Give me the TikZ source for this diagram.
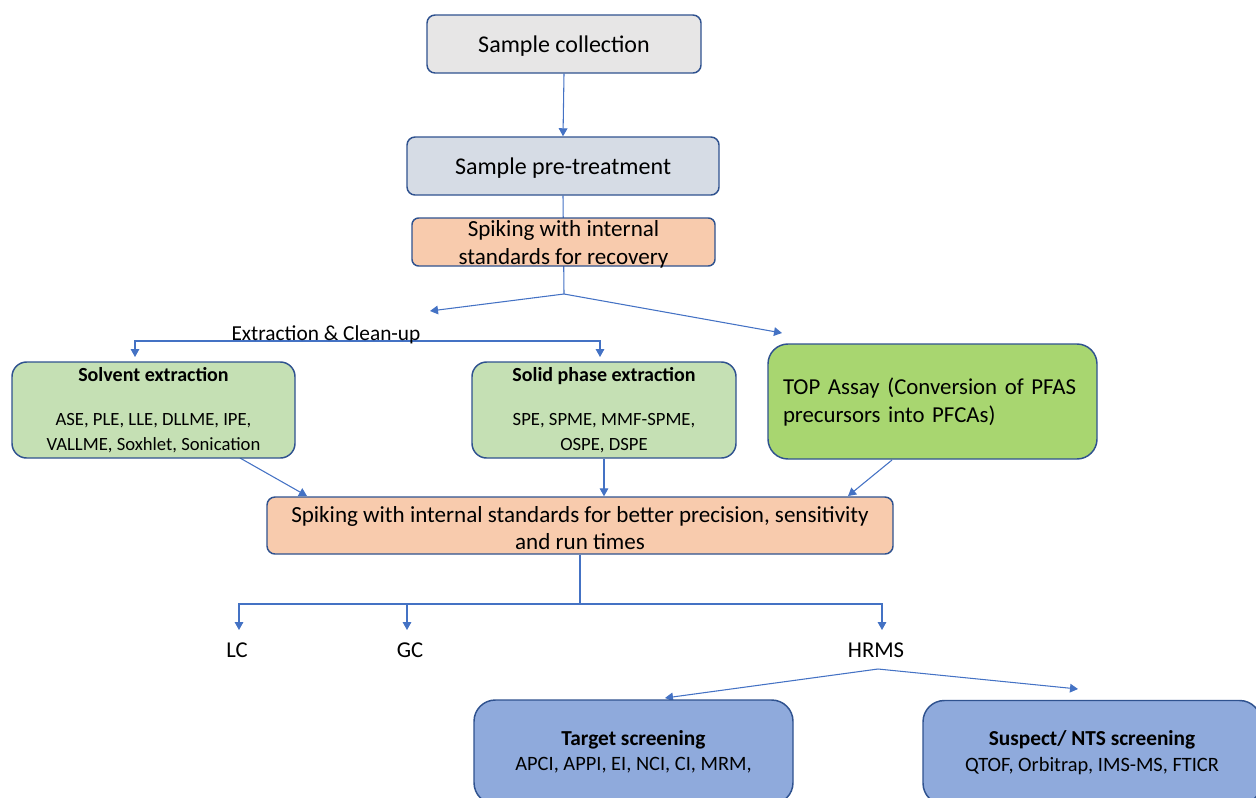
\documentclass[tikz,border=0pt]{standalone}
\usepackage{fontspec}
\setmainfont{Carlito}
\usetikzlibrary{arrows.meta,backgrounds}
\definecolor{bordercol}{HTML}{2F528F}
\definecolor{linecol}{HTML}{4472C4}
\definecolor{grayfill}{HTML}{E7E6E6}
\definecolor{bluegray}{HTML}{D6DCE5}
\definecolor{orangefill}{HTML}{F8CBAD}
\definecolor{lgreen}{HTML}{C5E0B4}
\definecolor{dgreen}{HTML}{A8D670}
\definecolor{bluefill}{HTML}{8FAADC}
\newcommand{\lowerit}[1]{\raisebox{-1.6pt}[\height][\depth]{#1}}
\tikzset{
  box/.style={draw=bordercol, line width=1.1pt, inner sep=0pt, align=center, text=black},
  conn/.style={draw=linecol, line width=0.8pt},
  arr/.style={conn, -{Triangle[length=6pt,width=6.5pt]}},
  arrs/.style={conn, {Triangle[length=6pt,width=6.5pt]}-{Triangle[length=6pt,width=6.5pt]}},
  lbl/.style={inner sep=0pt, text=black},
}
\begin{document}
\begin{tikzpicture}[x=0.75pt,y=-0.75pt]
\useasboundingbox (0,0) rectangle (1256,797);
\clip (0,0) rectangle (1256,797);
% boxes
\node[box, fill=grayfill, rounded corners=6pt, minimum width=274*0.75pt, minimum height=58*0.75pt, font=\fontsize{18}{21}\selectfont] (sc) at (564,44) {\lowerit{Sample collection}};
\node[box, fill=bluegray, rounded corners=6pt, minimum width=312*0.75pt, minimum height=58*0.75pt, font=\fontsize{18}{21}\selectfont] (pt) at (563,166) {\lowerit{Sample pre-treatment}};
\node[box, fill=orangefill, rounded corners=5pt, minimum width=303*0.75pt, minimum height=48*0.75pt, font=\fontsize{17.3}{21}\selectfont] (sp1) at (563.5,242) {\lowerit{Spiking with internal}\\\lowerit{standards for recovery}};
\node[box, fill=lgreen, rounded corners=11pt, minimum width=283*0.75pt, minimum height=96*0.75pt, font=\fontsize{14}{18.75}\selectfont] (se) at (153.5,410) {{\fontsize{15}{18.75}\selectfont\textbf{Solvent extraction}}\\[14.25pt]ASE, PLE, LLE, DLLME, IPE,\\VALLME, Soxhlet, Sonication};
\node[box, fill=lgreen, rounded corners=11pt, minimum width=264*0.75pt, minimum height=96*0.75pt, font=\fontsize{14}{18.75}\selectfont] (spe) at (604,410) {{\fontsize{15}{18.75}\selectfont\textbf{Solid phase extraction}}\\[14.25pt]SPE, SPME, MMF-SPME,\\OSPE, DSPE};
\node[box, fill=dgreen, rounded corners=15pt, minimum width=329*0.75pt, minimum height=115*0.75pt, text width=299*0.75pt, align=left, font=\fontsize{17.1}{21}\selectfont] (top) at (932.5,401.5) {TOP Assay (Conversion of PFAS\\precursors into PFCAs)};
\node[box, fill=orangefill, rounded corners=6pt, minimum width=626*0.75pt, minimum height=57*0.75pt, font=\fontsize{17.3}{20.25}\selectfont] (sp2) at (580,525.5) {\lowerit{Spiking with internal standards for better precision, sensitivity}\\\lowerit{and run times}};
\node[box, fill=bluefill, rounded corners=16pt, minimum width=319*0.75pt, minimum height=104*0.75pt, font=\fontsize{15.3}{19}\selectfont] (ts) at (633.5,752) {{\fontsize{16}{19}\selectfont\textbf{Target screening}}\\APCI, APPI, EI, NCI, CI, MRM,};
\node[box, fill=bluefill, rounded corners=16pt, minimum width=338*0.75pt, minimum height=104*0.75pt, font=\fontsize{15.3}{19}\selectfont] (ns) at (1092,752.5) {{\fontsize{16}{19}\selectfont\textbf{Suspect/ NTS screening}}\\QTOF, Orbitrap, IMS-MS, FTICR};
% labels
\node[lbl, font=\fontsize{16}{19}\selectfont] (ext) at (326,334.5) {Extraction \& Clean-up};
\node[lbl, font=\fontsize{17}{20}\selectfont] (lc) at (237,650) {LC};
\node[lbl, font=\fontsize{17}{20}\selectfont] (gc) at (410,650) {GC};
\node[lbl, font=\fontsize{17}{20}\selectfont] (hr) at (876,650) {HRMS};
% coordinates
\coordinate (s1) at (564,294);
\coordinate (s1l) at (430,311);
\coordinate (s1r) at (782,333);
\coordinate (seT) at (135,357);
\coordinate (speT) at (600,357);
\coordinate (s2) at (580,604);
\coordinate (lcT) at (239,630);
\coordinate (gcT) at (407,630);
\coordinate (hrT) at (882,630);
\coordinate (s3) at (878,669);
\coordinate (tsT) at (665,698);
\coordinate (nsT) at (1078,689);
\coordinate (seB) at (240,458);
\coordinate (topB) at (892,460);
\coordinate (sp2L) at (307,496);
\coordinate (sp2R) at (848,496);
\begin{scope}[on background layer]
\draw[arr] (sc.south) -- (pt.north);
\draw[conn] (pt.south) -- (s1);
\draw[arr] (s1) -- (s1l);
\draw[arr] (s1) -- (s1r);
\draw[arrs] (seT) -- (seT |- 0,341) -- (speT |- 0,341) -- (speT);
\draw[arr] (seB) -- (sp2L);
\draw[arr] (spe.south -| 604,0) -- (sp2.north -| 604,0);
\draw[arr] (topB) -- (sp2R);
\draw[conn] (sp2.south -| s2) -- (s2);
\draw[arr] (s2) -| (lcT);
\draw[arr] (s2) -| (gcT);
\draw[arr] (s2) -| (hrT);
\draw[arr] (s3) -- (tsT);
\draw[arr] (s3) -- (nsT);
\end{scope}
\end{tikzpicture}
\end{document}
